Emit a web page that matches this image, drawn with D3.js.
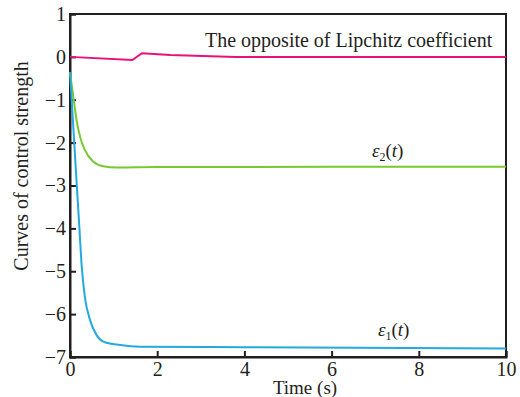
<!DOCTYPE html>
<html>
<head>
<meta charset="utf-8">
<script src="https://cdn.jsdelivr.net/npm/d3@7"></script>
<style>
  html, body { margin: 0; padding: 0; background: #fff; }
</style>
</head>
<body>
<svg id="chart" width="520" height="397"></svg>
<script>
// Time axis ticks and value axis ticks
const xTicks = [0, 2, 4, 6, 8, 10];
const yTicks = [1, 0, -1, -2, -3, -4, -5, -6, -7];

// Opposite of the Lipschitz coefficient
const lipT = [0, 1.43, 1.65, 2.3, 3.8, 10];
const lipV = [0, -0.075, 0.085, 0.045, 0, 0];

// Control strength epsilon_2(t)
const eps2T = [0, 0.076, 0.15, 0.23, 0.34, 0.53, 0.76, 1.07, 2, 6, 10];
const eps2V = [-0.36, -0.93, -1.47, -1.86, -2.17, -2.44, -2.55, -2.58, -2.57, -2.565, -2.56];

// Control strength epsilon_1(t)
const eps1T = [0, 0.05, 0.1, 0.15, 0.21, 0.27, 0.34, 0.46, 0.61, 0.76, 1.15, 1.6, 4, 10];
const eps1V = [-0.36, -1.2, -2.05, -2.9, -3.9, -4.9, -5.59, -6.14, -6.49, -6.64, -6.72, -6.76, -6.77, -6.80];

const FONT = "'Liberation Serif', 'Times New Roman', serif";
const INK = "#231f20";

const svg = d3.select("#chart");
const plotL = 70, plotR = 506, plotT = 14, plotB = 357;

const x = d3.scaleLinear().domain([0, 10]).range([plotL, plotR]);
const y = d3.scaleLinear().domain([-7, 1]).range([plotB, plotT]);

// Frame (top and right edges)
svg.append("rect")
  .attr("x", plotL).attr("y", plotT)
  .attr("width", plotR - plotL).attr("height", plotB - plotT)
  .attr("fill", "none").attr("stroke", INK).attr("stroke-width", 2);

// Axes with inward ticks
const xAxis = svg.append("g").attr("transform", `translate(0,${plotB})`)
  .call(d3.axisBottom(x).tickValues(xTicks).tickSize(-6).tickPadding(5).tickFormat(d3.format("d")));
const yAxis = svg.append("g").attr("transform", `translate(${plotL},0)`)
  .call(d3.axisLeft(y).tickValues(yTicks).tickSize(-6).tickPadding(4)
    .tickFormat(d => d < 0 ? "\u2212" + Math.abs(d) : d));

[xAxis, yAxis].forEach(g => {
  g.select(".domain").attr("stroke", INK).attr("stroke-width", 2);
  g.selectAll(".tick line").attr("stroke", INK).attr("stroke-width", 2);
  g.selectAll(".tick text").attr("fill", INK)
    .style("font-family", FONT).style("font-size", "20px");
});

const line = d3.line().x(d => x(d[0])).y(d => y(d[1]));
const smooth = d3.line().x(d => x(d[0])).y(d => y(d[1])).curve(d3.curveMonotoneX);

svg.append("path").datum(d3.zip(eps2T, eps2V))
  .attr("d", smooth).attr("fill", "none").attr("stroke", "#79c832").attr("stroke-width", 2);
svg.append("path").datum(d3.zip(eps1T, eps1V))
  .attr("d", smooth).attr("fill", "none").attr("stroke", "#22a9e0").attr("stroke-width", 2);
svg.append("path").datum(d3.zip(lipT, lipV))
  .attr("d", line).attr("fill", "none").attr("stroke", "#e8127c").attr("stroke-width", 2);

function label(px, py, size) {
  return svg.append("text").attr("x", px).attr("y", py).attr("fill", INK)
    .style("font-family", FONT).style("font-size", size + "px");
}

// Curve labels
label(205, 47, 20).text("The opposite of Lipchitz coefficient");

function epsLabel(px, py, sub) {
  const t = label(px, py, 19);
  t.append("tspan").style("font-style", "italic").text("\u03b5");
  t.append("tspan").style("font-size", "12px").attr("dy", 4).text(sub);
  t.append("tspan").attr("dy", -4).text("(");
  t.append("tspan").style("font-style", "italic").text("t");
  t.append("tspan").text(")");
}
epsLabel(372, 157, "2");
epsLabel(378, 336, "1");

// Axis titles
label(305, 394, 19).attr("text-anchor", "middle").text("Time (s)");
label(0, 0, 20).attr("transform", "translate(28,166) rotate(-90)")
  .attr("text-anchor", "middle").text("Curves of control strength");
</script>
</body>
</html>
